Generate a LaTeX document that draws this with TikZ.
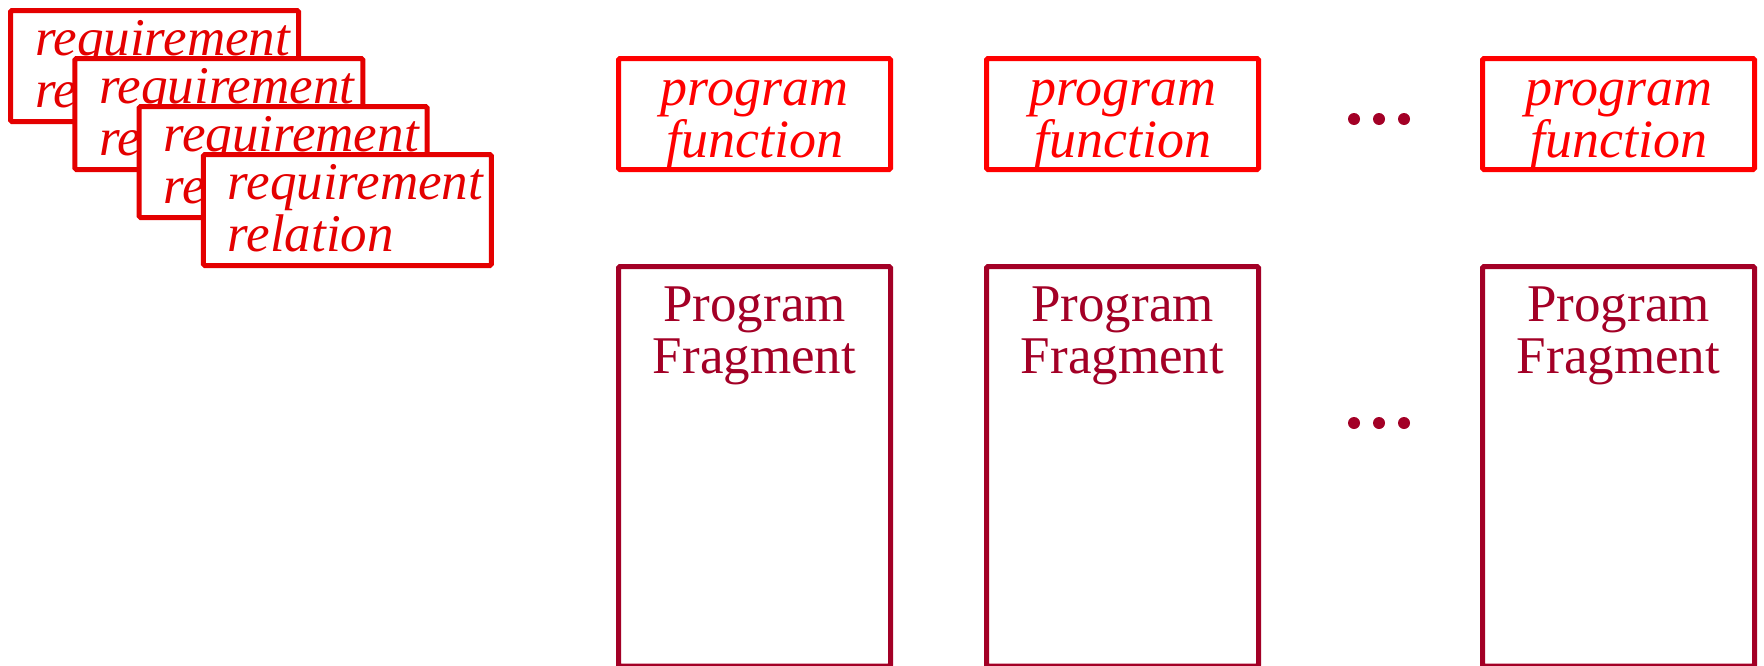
\documentclass[tikz,border=0pt]{standalone}
\usepackage{fontspec}
\setmainfont{Liberation Serif}
\usetikzlibrary{calc}
\definecolor{reqred}{RGB}{228,0,0}
\definecolor{pfred}{RGB}{255,0,0}
\definecolor{fragred}{RGB}{163,0,38}
\begin{document}
\begin{tikzpicture}[x=1pt,y=-1pt,
  every node/.style={outer sep=0pt, inner sep=0pt},
  reqbox/.style={draw=reqred, fill=white, line width=5pt, rounded corners=1.5pt, minimum width=288pt, minimum height=111pt, anchor=north west},
  pfbox/.style={draw=pfred, fill=white, line width=5pt, rounded corners=1.5pt, minimum width=272pt, minimum height=111pt, anchor=north west},
  fragbox/.style={draw=fragred, line width=5pt, rounded corners=1.5pt, minimum width=272pt, minimum height=399.5pt, anchor=north west},
  reqtext/.style={text=reqred, anchor=base west, font=\fontsize{53}{52}\selectfont\itshape},
  pftext/.style={text=pfred, anchor=base, font=\fontsize{54}{52}\selectfont\itshape},
  fragtext/.style={text=fragred, anchor=base, font=\fontsize{53}{52}\selectfont},
  dotsty/.style={fill=fragred}
]
\useasboundingbox (0,0) rectangle (1764,665);
% requirement stack
\foreach \i in {1,2,3,4}{
  \node[reqbox] (r\i) at ({10.5+64.3*(\i-1)},{10.5+48*(\i-1)}) {};
  \node[reqtext] (r\i a) at ($(r\i.north west)+(24.5,44.5)$) {requirement};
  \node[reqtext] (r\i b) at ($(r\i.north west)+(24.5,96.5)$) {relation};
}
% columns
\foreach \c/\x in {1/618.5,2/986.5,3/1482.5}{
  \node[pfbox] (pf\c) at (\x,58.5) {};
  \node[pftext] (pf\c a) at ($(pf\c.north)+(0,46.5)$) {program};
  \node[pftext] (pf\c b) at ($(pf\c.north)+(0,98.5)$) {function};
  \node[fragbox] (fr\c) at (\x,266.5) {};
  \node[fragtext] (fr\c a) at ($(fr\c.north)+(0,54.5)$) {Program};
  \node[fragtext] (fr\c b) at ($(fr\c.north)+(0,106.5)$) {Fragment};
}
% ellipses
\foreach \y in {119,423}{
  \foreach \x in {1354,1379,1404}{
    \fill[dotsty] (\x,\y) circle (6);
  }
}
\end{tikzpicture}
\end{document}
